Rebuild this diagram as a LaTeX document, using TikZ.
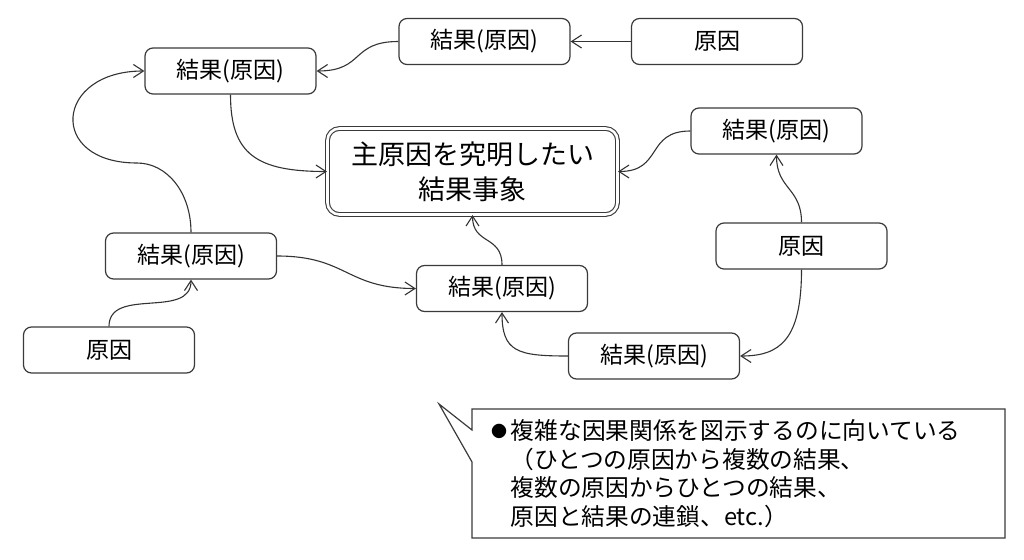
\documentclass[tikz,border=0pt]{standalone}
\usepackage{fontspec}
\setmainfont{Noto Sans CJK JP}
\usetikzlibrary{arrows.meta}
\definecolor{bordercol}{HTML}{3A3A3A}
\definecolor{linecol}{HTML}{333333}
\tikzset{
  box/.style={draw=bordercol, rounded corners=8pt, line width=1.2pt,
    minimum width=171pt, minimum height=46pt, inner sep=0pt,
    font=\fontsize{23}{28}\selectfont, text=black},
  mainbox/.style={draw=bordercol, double=white, double distance=2.6pt,
    line width=1.1pt, rounded corners=12pt, minimum width=290pt,
    minimum height=86pt, inner sep=0pt, align=center,
    font=\fontsize{27}{35}\selectfont},
  conn/.style={draw=linecol, line width=1.1pt,
    -{Straight Barb[length=10pt,width=13pt,line width=1.1pt]}},
  calloutline/.style={draw=bordercol, line width=1.2pt, line join=miter},
  ctext/.style={anchor=base west, inner sep=0pt,
    font=\fontsize{23.7}{28}\selectfont}
}
\begin{document}
\begin{tikzpicture}[x=1pt,y=-1pt]
\useasboundingbox (0,0) rectangle (1024,559);
% nodes
\node[mainbox] (M) at (472.5,171.5) {主原因を究明したい\\結果事象};
\node[box] (A) at (484.5,41.5) {結果(原因)};
\node[box] (B) at (717,41.5) {原因};
\node[box] (C) at (230.5,71) {結果(原因)};
\node[box] (D) at (776.5,131) {結果(原因)};
\node[box] (E) at (801.5,246) {原因};
\node[box] (F) at (191,256) {結果(原因)};
\node[box] (G) at (109,350) {原因};
\node[box] (H) at (502,288.5) {結果(原因)};
\node[box] (I) at (654,356) {結果(原因)};
% connectors
\coordinate (fc) at (137,163);
\draw[conn] (B.west) -- (A.east);
\draw[conn] (A.west) .. controls +(-48,0) and +(48,0) .. (C.east);
\draw[conn] (F.north) .. controls +(0,-40) and +(30,0) .. (fc)
  .. controls +(-90,0) and +(-90,0) .. (C.west);
\draw[conn] (C.south) .. controls +(0,60) and +(-70,0) .. (M.west);
\draw[conn] (D.west) .. controls +(-45,0) and +(45,0) .. (M.east);
\draw[conn] (E.north) .. controls +(0,-35) and +(0,35) .. (D.south);
\draw[conn] (E.south) .. controls +(0,70) and +(40,0) .. (I.east);
\draw[conn] (I.west) .. controls +(-50,0) and +(0,40) .. (H.south);
\draw[conn] (H.north) .. controls +(0,-30) and +(0,30) .. (M.south);
\draw[conn] (F.east) .. controls +(70,0) and +(-70,0) .. (H.west);
\draw[conn] (G.north) .. controls +(0,-40) and +(0,40) .. (F.south);
% callout
\draw[calloutline] (472,409) -- (1005,409) -- (1005,538) -- (472,538)
  -- (472,462) -- (439,404) -- (472,430) -- cycle;
\node[ctext] (t1) at (487,439) {\makebox[23.7pt][c]{\raisebox{1.5pt}{\fontsize{16}{28}\selectfont●}}複雑な因果関係を図示するのに向いている};
\node[ctext] (t2) at (510.5,468) {（ひとつの原因から複数の結果、};
\node[ctext] (t3) at (510.5,496) {複数の原因からひとつの結果、};
\node[ctext] (t4) at (510.5,525) {原因と結果の連鎖、etc.）};
\end{tikzpicture}
\end{document}
